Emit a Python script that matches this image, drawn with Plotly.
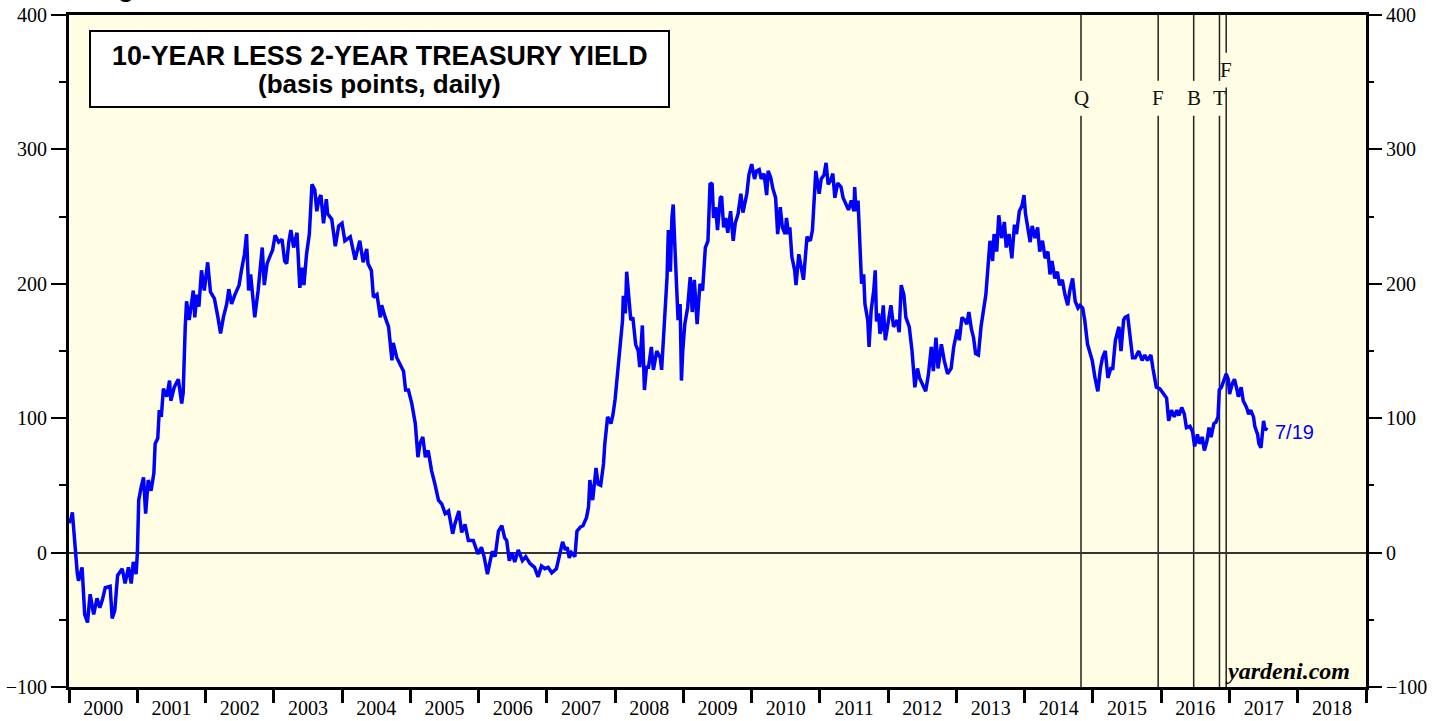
import pandas as pd
import plotly.graph_objects as go

# 10-year minus 2-year Treasury spread, basis points (time in decimal years)
YEAR_FRAC = [
    2000.00, 2000.03, 2000.05, 2000.09, 2000.12, 2000.14, 2000.19, 2000.23, 2000.27, 2000.31,
    2000.36, 2000.41, 2000.45, 2000.49, 2000.53, 2000.60, 2000.63, 2000.67, 2000.71, 2000.78,
    2000.82, 2000.87, 2000.91, 2000.94, 2000.98, 2001.00, 2001.02, 2001.06, 2001.09, 2001.12,
    2001.16, 2001.20, 2001.24, 2001.26, 2001.30, 2001.32, 2001.35, 2001.38, 2001.43, 2001.47,
    2001.49, 2001.54, 2001.60, 2001.65, 2001.67, 2001.70, 2001.72, 2001.76, 2001.82, 2001.84,
    2001.87, 2001.90, 2001.94, 2001.98, 2002.03, 2002.07, 2002.13, 2002.18, 2002.22, 2002.26,
    2002.31, 2002.34, 2002.38, 2002.43, 2002.49, 2002.53, 2002.57, 2002.60, 2002.63, 2002.66,
    2002.69, 2002.72, 2002.77, 2002.83, 2002.86, 2002.90, 2002.94, 2002.98, 2003.02, 2003.07,
    2003.12, 2003.16, 2003.19, 2003.22, 2003.25, 2003.29, 2003.34, 2003.38, 2003.42, 2003.44,
    2003.48, 2003.52, 2003.56, 2003.60, 2003.63, 2003.66, 2003.69, 2003.73, 2003.77, 2003.79,
    2003.85, 2003.90, 2003.95, 2004.00, 2004.04, 2004.12, 2004.19, 2004.26, 2004.31, 2004.36,
    2004.38, 2004.43, 2004.46, 2004.51, 2004.56, 2004.58, 2004.63, 2004.68, 2004.73, 2004.75,
    2004.80, 2004.85, 2004.90, 2004.93, 2004.97, 2005.02, 2005.07, 2005.11, 2005.14, 2005.18,
    2005.22, 2005.26, 2005.31, 2005.36, 2005.41, 2005.46, 2005.51, 2005.56, 2005.62, 2005.65,
    2005.71, 2005.75, 2005.80, 2005.85, 2005.92, 2005.99, 2006.04, 2006.08, 2006.13, 2006.17,
    2006.20, 2006.24, 2006.29, 2006.34, 2006.38, 2006.41, 2006.45, 2006.49, 2006.53, 2006.58,
    2006.64, 2006.69, 2006.75, 2006.82, 2006.87, 2006.92, 2006.97, 2007.02, 2007.07, 2007.14,
    2007.18, 2007.23, 2007.27, 2007.30, 2007.33, 2007.36, 2007.41, 2007.44, 2007.49, 2007.53,
    2007.58, 2007.61, 2007.63, 2007.67, 2007.72, 2007.75, 2007.79, 2007.83, 2007.85, 2007.89,
    2007.94, 2007.97, 2008.00, 2008.05, 2008.09, 2008.11, 2008.12, 2008.15, 2008.17, 2008.20,
    2008.23, 2008.26, 2008.30, 2008.34, 2008.36, 2008.40, 2008.43, 2008.46, 2008.49, 2008.53,
    2008.56, 2008.61, 2008.66, 2008.68, 2008.71, 2008.73, 2008.76, 2008.78, 2008.81, 2008.83,
    2008.85, 2008.87, 2008.89, 2008.92, 2008.95, 2008.97, 2008.99, 2009.02, 2009.06, 2009.10,
    2009.13, 2009.16, 2009.20, 2009.24, 2009.28, 2009.32, 2009.36, 2009.39, 2009.42, 2009.44,
    2009.47, 2009.50, 2009.54, 2009.56, 2009.59, 2009.62, 2009.65, 2009.69, 2009.73, 2009.76,
    2009.80, 2009.84, 2009.87, 2009.93, 2009.96, 2010.00, 2010.04, 2010.07, 2010.11, 2010.14,
    2010.18, 2010.22, 2010.24, 2010.28, 2010.31, 2010.35, 2010.38, 2010.42, 2010.45, 2010.49,
    2010.51, 2010.54, 2010.56, 2010.59, 2010.63, 2010.65, 2010.69, 2010.73, 2010.76, 2010.81,
    2010.86, 2010.89, 2010.92, 2010.94, 2010.99, 2011.02, 2011.06, 2011.09, 2011.12, 2011.16,
    2011.19, 2011.22, 2011.26, 2011.31, 2011.34, 2011.38, 2011.42, 2011.46, 2011.50, 2011.51,
    2011.53, 2011.56, 2011.59, 2011.61, 2011.64, 2011.66, 2011.70, 2011.72, 2011.75, 2011.79,
    2011.81, 2011.83, 2011.86, 2011.88, 2011.90, 2011.93, 2011.96, 2012.01, 2012.04, 2012.08,
    2012.13, 2012.16, 2012.19, 2012.23, 2012.26, 2012.31, 2012.35, 2012.39, 2012.43, 2012.46,
    2012.51, 2012.55, 2012.59, 2012.63, 2012.66, 2012.70, 2012.73, 2012.78, 2012.82, 2012.87,
    2012.92, 2012.96, 2013.01, 2013.04, 2013.08, 2013.12, 2013.15, 2013.18, 2013.22, 2013.25,
    2013.28, 2013.32, 2013.36, 2013.40, 2013.43, 2013.46, 2013.49, 2013.53, 2013.55, 2013.59,
    2013.62, 2013.66, 2013.70, 2013.73, 2013.77, 2013.81, 2013.85, 2013.88, 2013.92, 2013.96,
    2013.99, 2014.01, 2014.04, 2014.08, 2014.11, 2014.15, 2014.19, 2014.22, 2014.26, 2014.30,
    2014.34, 2014.37, 2014.40, 2014.44, 2014.48, 2014.51, 2014.55, 2014.59, 2014.63, 2014.66,
    2014.70, 2014.74, 2014.78, 2014.81, 2014.85, 2014.88, 2014.92, 2014.95, 2014.99, 2015.03,
    2015.07, 2015.11, 2015.14, 2015.18, 2015.22, 2015.26, 2015.29, 2015.33, 2015.38, 2015.41,
    2015.45, 2015.47, 2015.51, 2015.55, 2015.58, 2015.62, 2015.67, 2015.72, 2015.76, 2015.80,
    2015.85, 2015.88, 2015.93, 2015.98, 2016.03, 2016.08, 2016.11, 2016.15, 2016.19, 2016.23,
    2016.26, 2016.30, 2016.34, 2016.37, 2016.42, 2016.46, 2016.49, 2016.53, 2016.56, 2016.60,
    2016.63, 2016.67, 2016.70, 2016.73, 2016.77, 2016.80, 2016.83, 2016.85, 2016.88, 2016.91,
    2016.93, 2016.95, 2016.98, 2017.00, 2017.04, 2017.07, 2017.11, 2017.13, 2017.17, 2017.20,
    2017.25, 2017.28, 2017.31, 2017.35, 2017.37, 2017.41, 2017.43, 2017.46, 2017.48, 2017.50,
    2017.52, 2017.55,
]
SPREAD_BP = [
    22, 25, 30, 0, -15, -21, -11, -46, -52, -31,
    -46, -34, -41, -35, -26, -25, -49, -43, -17, -12,
    -23, -11, -23, -7, -16, 0, 39, 50, 56, 29,
    54, 46, 59, 81, 85, 106, 101, 122, 116, 128,
    113, 123, 129, 111, 119, 168, 187, 173, 195, 175,
    192, 183, 210, 195, 216, 194, 189, 175, 163, 175,
    185, 196, 185, 192, 199, 211, 222, 237, 195, 207,
    192, 175, 195, 227, 199, 215, 220, 225, 236, 231,
    233, 217, 215, 231, 240, 227, 238, 197, 212, 199,
    222, 237, 274, 270, 254, 263, 266, 245, 263, 252,
    248, 228, 243, 245, 232, 235, 218, 232, 216, 226,
    215, 210, 190, 192, 175, 184, 175, 168, 143, 156,
    145, 140, 135, 121, 121, 111, 96, 71, 81, 86,
    71, 76, 61, 51, 39, 36, 29, 31, 14, 21,
    31, 15, 21, 9, 9, -1, 4, -3, -16, -6,
    1, -3, 16, 20, 11, 9, -6, 0, -7, 2,
    -6, -3, -8, -11, -18, -10, -12, -11, -15, -12,
    -3, 8, 2, 4, -4, 0, -3, 16, 19, 20,
    26, 34, 54, 39, 63, 51, 50, 66, 81, 101,
    96, 103, 114, 143, 160, 173, 191, 178, 209, 192,
    173, 175, 155, 150, 138, 169, 121, 138, 138, 153,
    136, 150, 145, 136, 160, 176, 205, 240, 209, 249,
    259, 234, 205, 173, 185, 128, 150, 170, 182, 205,
    179, 203, 170, 200, 195, 227, 232, 274, 275, 249,
    257, 240, 264, 265, 242, 249, 238, 254, 232, 245,
    252, 267, 253, 267, 281, 289, 278, 284, 285, 278,
    282, 266, 284, 279, 271, 264, 237, 257, 242, 237,
    249, 237, 242, 220, 210, 199, 222, 210, 203, 235,
    232, 240, 262, 284, 267, 278, 281, 290, 274, 277,
    282, 264, 275, 272, 264, 260, 255, 262, 254, 272,
    254, 262, 222, 200, 207, 185, 173, 153, 180, 195,
    210, 172, 178, 163, 166, 184, 158, 175, 184, 168,
    173, 164, 199, 192, 175, 168, 150, 123, 137, 130,
    125, 120, 133, 153, 135, 160, 137, 155, 143, 133,
    137, 153, 166, 158, 175, 173, 170, 179, 166, 160,
    148, 147, 168, 184, 192, 212, 232, 217, 237, 224,
    251, 234, 246, 227, 237, 219, 244, 237, 254, 258,
    266, 252, 242, 231, 243, 234, 242, 224, 232, 219,
    224, 207, 217, 204, 209, 199, 203, 192, 184, 195,
    204, 187, 182, 184, 182, 173, 155, 150, 143, 130,
    120, 137, 145, 150, 130, 137, 137, 158, 168, 150,
    173, 175, 176, 158, 145, 145, 150, 143, 147, 143,
    147, 137, 123, 122, 118, 115, 98, 106, 101, 106,
    102, 108, 103, 93, 94, 90, 79, 88, 81, 86,
    76, 83, 93, 86, 96, 97, 101, 121, 123, 128,
    131, 133, 129, 118, 126, 129, 121, 116, 123, 113,
    108, 103, 106, 101, 94, 88, 81, 78, 88, 98,
    91, 93,
]

# Policy / political events marked with vertical lines
EVENT_DATES = ["2014-10-29", "2015-12-16", "2016-06-23", "2016-11-08", "2016-12-14"]
EVENT_LABELS = ["Q", "F", "B", "T", "F"]

LAST_LABEL = "7/19"
Y_TICKS = [-100, 0, 100, 200, 300, 400]

BG = "#FFFEE4"
SERIF = "Liberation Serif, Times New Roman, serif"
SANS = "Liberation Sans, Arial, Helvetica, sans-serif"


def to_date(y):
    year = int(y)
    start = pd.Timestamp(year=year, month=1, day=1)
    days = (pd.Timestamp(year=year + 1, month=1, day=1) - start).days
    return start + pd.Timedelta(days=round((y - year) * days))


dates = [to_date(v) for v in YEAR_FRAC]

fig = go.Figure()
fig.add_trace(go.Scatter(
    x=dates, y=SPREAD_BP, mode="lines",
    line=dict(color="#0000FF", width=3.5), showlegend=False, hoverinfo="x+y",
))
# carrier trace so the right-hand axis is drawn
fig.add_trace(go.Scatter(
    x=dates[:1], y=SPREAD_BP[:1], yaxis="y2", mode="lines",
    line=dict(color="rgba(0,0,0,0)"), showlegend=False, hoverinfo="skip",
))

# vertical event lines with a gap where the letter sits
label_levels = [338] * (len(EVENT_DATES) - 1) + [359]
gap = 13
for d, lab, lvl in zip(EVENT_DATES, EVENT_LABELS, label_levels):
    for y0, y1 in ((-100, lvl - gap), (lvl + gap, 400)):
        fig.add_shape(type="line", xref="x", yref="y", x0=d, x1=d, y0=y0, y1=y1,
                      line=dict(color="#222222", width=1.5), layer="below")
    fig.add_annotation(x=d, y=lvl, xref="x", yref="y", text=lab, showarrow=False,
                       font=dict(family=SERIF, size=21, color="#111111"),
                       xanchor="center", yanchor="middle")

# title box
fig.add_shape(type="rect", xref="paper", yref="paper",
              x0=0.0162, x1=0.4626, y0=0.8631, y1=0.9762,
              line=dict(color="black", width=2), fillcolor="white", layer="above")
fig.add_annotation(xref="paper", yref="paper", x=0.2394, y=0.939,
                   text="<b>10-YEAR LESS 2-YEAR TREASURY YIELD</b>", showarrow=False,
                   font=dict(family=SANS, size=26.8, color="black"),
                   xanchor="center", yanchor="middle")
fig.add_annotation(xref="paper", yref="paper", x=0.2394, y=0.8973,
                   text="<b>(basis points, daily)</b>", showarrow=False,
                   font=dict(family=SANS, size=26, color="black"),
                   xanchor="center", yanchor="middle")

# last-value label
fig.add_annotation(x=dates[-1], y=SPREAD_BP[-1], xref="x", yref="y", text=LAST_LABEL,
                   showarrow=False, xanchor="left", yanchor="middle", xshift=6, yshift=-4,
                   font=dict(family=SANS, size=20, color="#0000FF"))

# source credit
fig.add_annotation(xref="paper", yref="paper", x=0.9892, y=0.0238,
                   text="<b><i>yardeni.com</i></b>", showarrow=False,
                   xanchor="right", yanchor="middle",
                   font=dict(family=SERIF, size=24, color="black"))

# heading running off the top edge
fig.add_annotation(xref="paper", yref="paper", x=0.0193, y=1.0158,
                   text="<b>Figure 1.</b>", showarrow=False,
                   xanchor="left", yanchor="bottom", borderpad=0,
                   font=dict(family=SANS, size=26, color="black"))

yaxis_common = dict(
    range=[-100, 400], tickvals=Y_TICKS, ticks="outside", ticklen=15, tickwidth=1.5,
    tickcolor="black", tickfont=dict(family=SERIF, size=20, color="black"),
    showgrid=False, automargin=False,
    minor=dict(dtick=50, tick0=0, ticks="outside", ticklen=7,
               tickwidth=1.5, tickcolor="black", showgrid=False),
    fixedrange=True,
)

fig.update_layout(
    width=1442, height=721,
    margin=dict(l=69, r=76, t=15, b=34, autoexpand=False),
    paper_bgcolor="white", plot_bgcolor=BG,
    showlegend=False,
    xaxis=dict(
        type="date", range=["2000-01-01", "2019-01-01"],
        dtick="M12", tick0="2000-01-01", tickformat="%Y", ticklabelmode="period",
        ticks="outside", ticklen=13, tickwidth=3, tickcolor="black",
        ticklabelstandoff=-12,
        tickfont=dict(family=SERIF, size=20, color="black"),
        showline=True, linewidth=3, linecolor="black", mirror=True,
        showgrid=False, zeroline=False, automargin=False,
    ),
    yaxis=dict(
        **yaxis_common, side="left",
        showline=True, linewidth=3, linecolor="black", mirror=True,
        zeroline=True, zerolinecolor="#333333", zerolinewidth=2,
    ),
    yaxis2=dict(
        **yaxis_common, side="right", overlaying="y", anchor="x",
        showline=False, zeroline=False,
    ),
)

fig.write_html("out.html")
